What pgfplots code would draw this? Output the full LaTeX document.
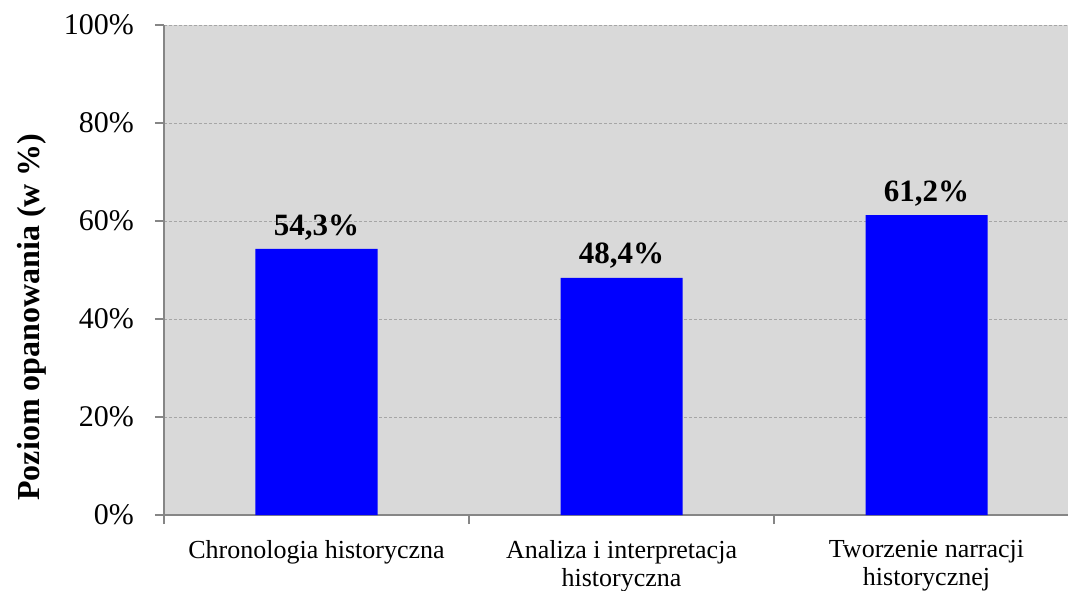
\documentclass[border=0pt]{standalone}
\usepackage{fontspec}
\setmainfont{Liberation Serif}
\usepackage{pgfplots}
\pgfplotsset{compat=1.18}
\definecolor{bgray}{HTML}{D9D9D9}
\definecolor{axgray}{HTML}{868686}
\definecolor{gridgray}{HTML}{A6A6A6}
\definecolor{barblue}{HTML}{0000FF}
\begin{document}
\begin{tikzpicture}
\path[use as bounding box] (-82pt,-37.5pt) rectangle (452pt,257.5pt);
\begin{axis}[
  at={(0,0)}, anchor=south west,
  width=457.5pt, height=245pt, scale only axis,
  xmin=-0.5, xmax=2.5, ymin=0, ymax=100,
  axis x line*=bottom, axis y line*=left,
  axis line style={draw=axgray, line width=0.8pt, -},
  axis background/.style={fill=bgray},
  ytick={0,20,40,60,80,100},
  yticklabels={0\%,20\%,40\%,60\%,80\%,100\%},
  yticklabel style={font=\fontsize{15}{18}\selectfont, xshift=-7pt},
  ymajorgrids,
  grid style={draw=gridgray, line width=0.4pt, dash pattern=on 1.5pt off 1pt},
  tick align=outside,
  ytick pos=left,
  every tick/.style={draw=axgray, line width=0.8pt},
  major tick length=4.5pt,
  xtick={0,1,2},
  xticklabels={Chronologia historyczna, Analiza i interpretacja\\historyczna, Tworzenie narracji\\historycznej},
  xticklabel style={font=\fontsize{13}{14}\selectfont, align=center, yshift=-4.5pt},
  xtick style={draw=none},
  extra x ticks={-0.5,0.5,1.5},
  extra x tick labels={},
  extra x tick style={grid=none, xtick style={draw=axgray, line width=0.8pt}},
  ylabel={\textbf{Poziom opanowania (w \%)}},
  ylabel style={font=\fontsize{16}{19}\selectfont, at={(axis description cs:-0.1443,0.404)}, anchor=center},
  clip=false,
]
\addplot[ybar, bar width=61pt, fill=barblue, draw=none,
  nodes near coords={\textbf{\pgfmathprintnumber[fixed,fixed zerofill,precision=1,use comma,assume math mode=true]{\pgfplotspointmeta}\%}},
  nodes near coords style={font=\fontsize{15.5}{18}\selectfont, text=black, anchor=south, yshift=1pt}]
  coordinates {(0,54.3) (1,48.4) (2,61.2)};
\end{axis}
\end{tikzpicture}
\end{document}
